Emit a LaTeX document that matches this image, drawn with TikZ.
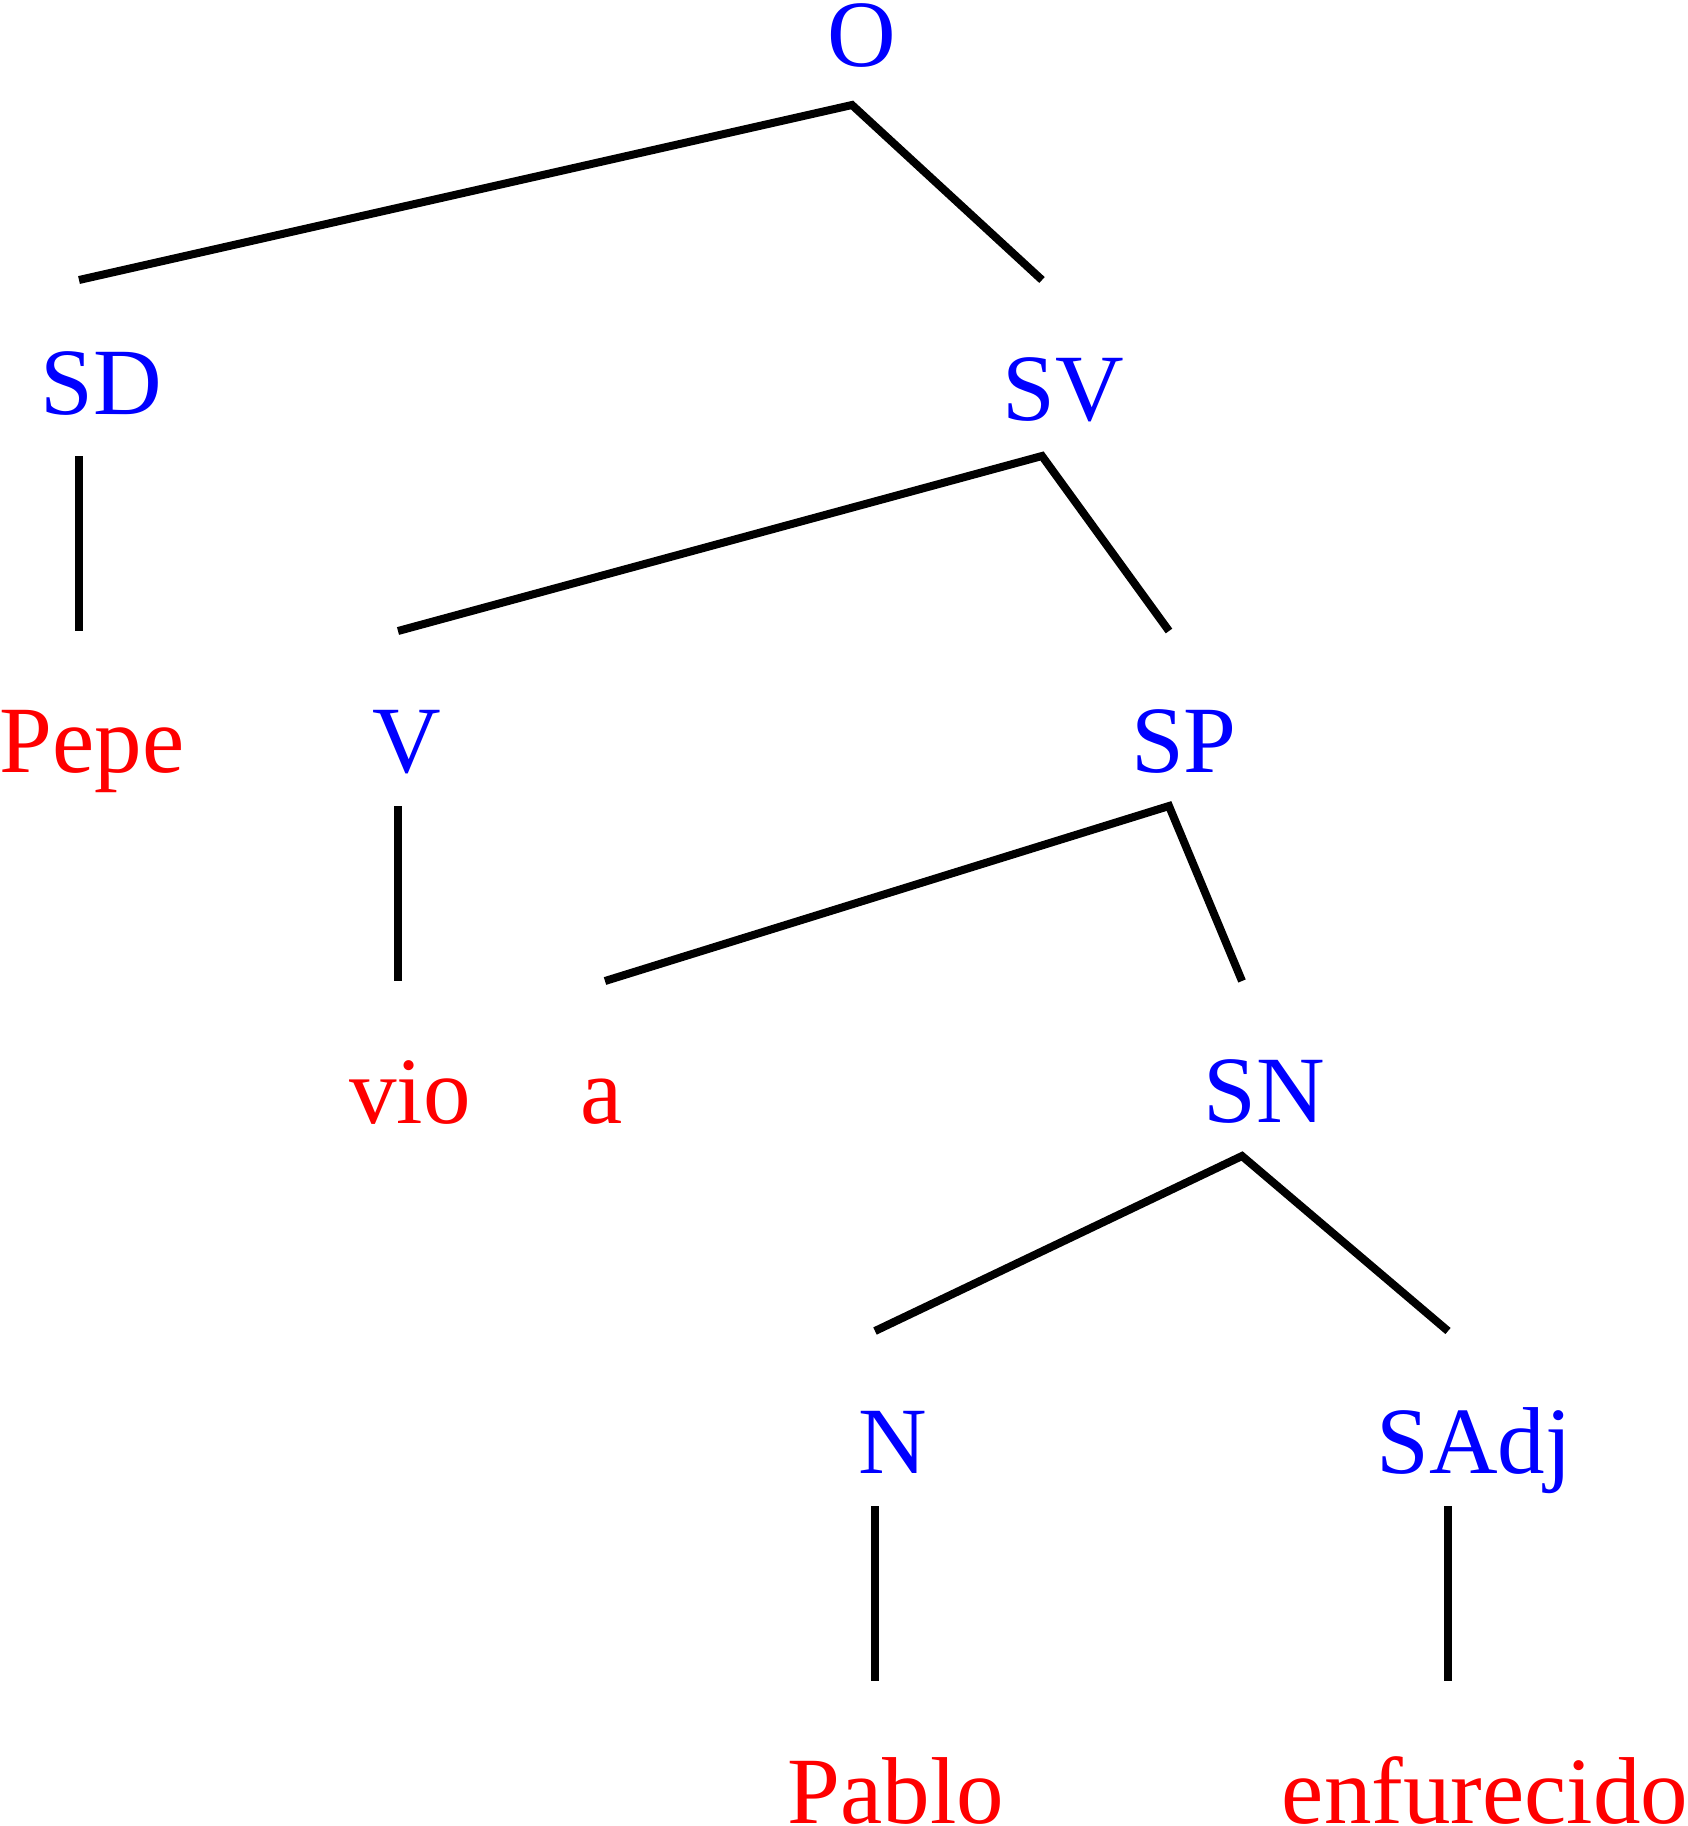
\documentclass[tikz,border=0pt]{standalone}
\usepackage{fontspec}
\setmainfont{Liberation Serif}
\definecolor{catblue}{RGB}{0,0,255}
\definecolor{wordred}{RGB}{255,0,0}
\begin{document}
\begin{tikzpicture}[x=1pt,y=-1pt,
  lbl/.style={inner sep=0pt,anchor=base,font=\fontsize{95}{110}\selectfont},
  cat/.style={lbl,text=catblue},
  word/.style={lbl,text=wordred},
  edge/.style={line width=8pt,black}]
\useasboundingbox (0,0) rectangle (1688,1826);
% labels
\node[cat] (O) at (862,66) {O};
\node[cat] (SD) at (101,414) {SD};
\node[cat] (SV) at (1063,420) {SV};
\node[word] (Pepe) at (92,772) {Pepe};
\node[cat] (V) at (407,772) {V};
\node[cat] (SP) at (1184,772) {SP};
\node[word] (vio) at (410,1123) {vio};
\node[word] (a) at (602,1123) {a};
\node[cat] (SN) at (1264,1122) {SN};
\node[cat] (N) at (893,1473) {N};
\node[cat] (SAdj) at (1474,1473) {SAdj};
\node[word] (Pablo) at (896,1823) {Pablo};
\node[word] (enf) at (1485,1823) {enfurecido};
% branch points
\coordinate (Ob) at (852,105);
\coordinate (SDt) at (79,280);
\coordinate (SVt) at (1042,280);
\coordinate (SDb) at (79,456);
\coordinate (Pepet) at (79,631);
\coordinate (SVb) at (1042,456);
\coordinate (Vt) at (398,631);
\coordinate (SPt) at (1169,631);
\coordinate (Vb) at (398,806);
\coordinate (viot) at (398,981);
\coordinate (SPb) at (1169,806);
\coordinate (at) at (605,981);
\coordinate (SNt) at (1242,981);
\coordinate (SNb) at (1242,1156);
\coordinate (Nt) at (875,1331);
\coordinate (SAdjt) at (1448,1331);
\coordinate (Nb) at (875,1506);
\coordinate (Pablot) at (875,1681);
\coordinate (SAdjb) at (1448,1506);
\coordinate (enft) at (1448,1681);
% edges
\draw[edge] (SDt) -- (Ob) -- (SVt);
\draw[edge] (SDb) -- (Pepet);
\draw[edge] (Vt) -- (SVb) -- (SPt);
\draw[edge] (Vb) -- (viot);
\draw[edge] (at) -- (SPb) -- (SNt);
\draw[edge] (Nt) -- (SNb) -- (SAdjt);
\draw[edge] (Nb) -- (Pablot);
\draw[edge] (SAdjb) -- (enft);
\end{tikzpicture}
\end{document}
